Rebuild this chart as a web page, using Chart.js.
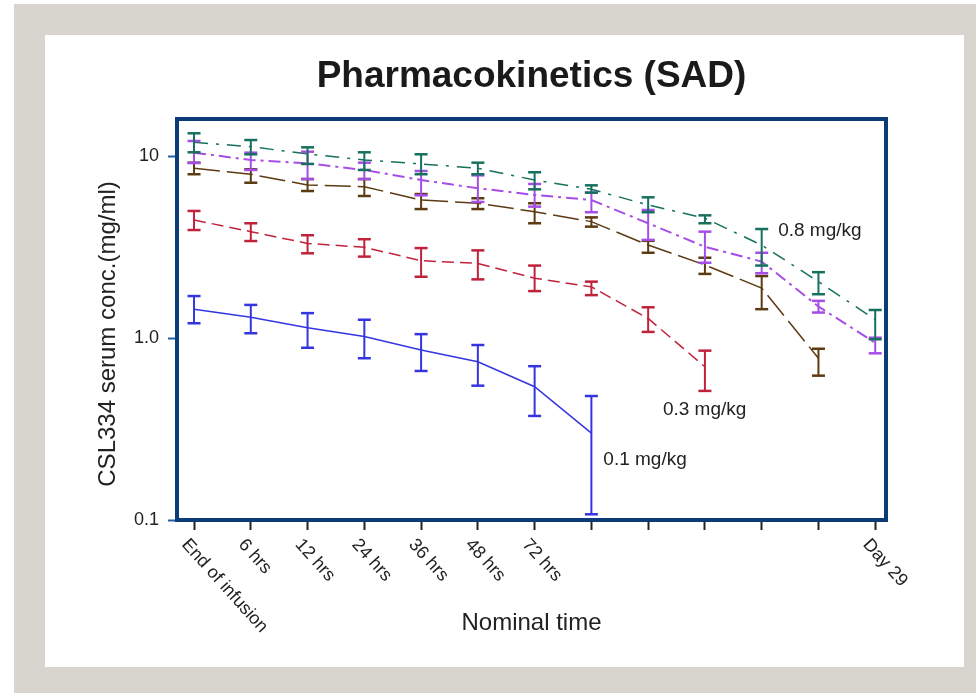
<!DOCTYPE html>
<html><head><meta charset="utf-8">
<script src="https://cdn.jsdelivr.net/npm/chart.js@4.4.1/dist/chart.umd.min.js"></script>
<style>html,body{margin:0;padding:0;background:#fff;}canvas{display:block;}</style>
</head><body>
<canvas id="c" width="976" height="693"></canvas>
<script>
// ---- data ----
const timeLabels = ["End of infusion","6 hrs","12 hrs","24 hrs","36 hrs","48 hrs","72 hrs","","","","","","Day 29"];
const yTickValues = [0.1, 1, 10];
const yTickLabels = ["0.1", "1.0", "10"];
const seriesNames = ["0.1 mg/kg", "0.3 mg/kg", "Cohort 3", "Cohort 4", "0.8 mg/kg"];

const mean01 = [1.44, 1.30, 1.14, 1.02, 0.86, 0.74, 0.54, 0.30];
const low01  = [1.205, 1.062, 0.884, 0.774, 0.659, 0.547, 0.373, 0.1075];
const high01 = [1.70, 1.52, 1.37, 1.26, 1.05, 0.915, 0.70, 0.48];

const mean03 = [4.45, 3.84, 3.31, 3.15, 2.66, 2.57, 2.13, 1.91, 1.28, 0.695];
const low03  = [3.92, 3.41, 2.92, 2.80, 2.17, 2.10, 1.81, 1.72, 1.08, 0.512];
const high03 = [4.99, 4.27, 3.67, 3.49, 3.12, 3.03, 2.50, 2.04, 1.475, 0.852];

const meanC3 = [8.56, 7.94, 6.93, 6.78, 5.73, 5.50, 4.94, 4.36, 3.24, 2.52, 1.88, 0.774];
const lowC3  = [7.94, 7.13, 6.42, 6.03, 5.11, 5.11, 4.27, 4.09, 2.94, 2.25, 1.44, 0.621];
const highC3 = [9.19, 8.45, 7.47, 7.47, 6.18, 5.86, 5.50, 4.60, 3.42, 2.76, 2.19, 0.873];

const meanC4 = [10.43, 9.51, 9.12, 8.38, 7.38, 6.65, 6.11, 5.73, 4.27, 3.17, 2.63, 1.49, 0.94];
const lowC4  = [9.15, 8.38, 7.47, 7.47, 6.08, 5.59, 5.27, 4.91, 3.46, 2.59, 2.27, 1.38, 0.824];
const highC4 = [12.09, 10.43, 10.56, 9.19, 8.27, 7.83, 7.02, 6.29, 5.05, 3.84, 2.94, 1.60, 1.004];

const mean08 = [11.89, 11.25, 10.26, 9.51, 9.04, 8.56, 7.38, 6.56, 5.38, 4.55, 3.24, 2.04, 1.26];
const low08  = [10.48, 10.22, 9.04, 8.38, 7.94, 7.94, 6.56, 6.29, 4.91, 4.27, 2.50, 1.74, 0.984];
const high08 = [13.33, 12.24, 11.16, 10.48, 10.22, 9.19, 8.14, 6.90, 5.93, 4.72, 3.97, 2.30, 1.425];

// ---- styling ----
const means = [mean01, mean03, meanC3, meanC4, mean08];
const lows  = [low01, low03, lowC3, lowC4, low08];
const highs = [high01, high03, highC3, highC4, high08];
const colors = ['#3535e0', '#c0223a', '#5c3a12', '#a64de8', '#16705e'];
const dashes = [[], [12, 6], [26, 7], [12, 5, 3, 5], [14, 8, 3, 8]];
const widths = [1.5, 1.5, 1.5, 2, 1.5];
// annotation anchors (index on x, value on y) for the labelled series
const annot = [
  {s: 0, x: 7.21, y: 0.200},
  {s: 1, x: 8.26, y: 0.378},
  {s: 4, x: 10.29, y: 3.63}
];
const chartTitle = 'Pharmacokinetics (SAD)';
const xTitle = 'Nominal time';
const yTitle = 'CSL334 serum conc.(mg/ml)';
const FONT = "'Liberation Sans', Arial, sans-serif";
Chart.defaults.font.family = FONT;

const decor = {
  id: 'decor',
  beforeDraw(chart) {
    const c = chart.ctx; c.save();
    c.fillStyle = '#ffffff'; c.fillRect(0, 0, chart.width, chart.height);
    c.fillStyle = '#d8d5cf'; c.fillRect(14, 4, chart.width - 14, chart.height - 4);
    c.fillStyle = '#ffffff'; c.fillRect(45, 35, 919, 632);
    c.restore();
  },
  afterDatasetsDraw(chart) {
    const c = chart.ctx, a = chart.chartArea, xs = chart.scales.x, ys = chart.scales.y;
    const seg = (x1, y1, x2, y2) => { c.beginPath(); c.moveTo(x1, y1); c.lineTo(x2, y2); c.stroke(); };
    chart.data.datasets.forEach((ds, di) => {
      c.save(); c.strokeStyle = colors[di]; c.setLineDash([]);
      ds.data.forEach((p, i) => {
        const px = xs.getPixelForValue(p.x);
        const y1 = ys.getPixelForValue(lows[di][i]);
        const y2 = ys.getPixelForValue(highs[di][i]);
        c.lineWidth = 2; seg(px, y1, px, y2);
        c.lineWidth = 2.5; seg(px - 6.5, y1, px + 6.5, y1); seg(px - 6.5, y2, px + 6.5, y2);
      });
      c.restore();
    });
    c.save(); c.strokeStyle = '#0b3c78'; c.lineWidth = 4;
    c.strokeRect(a.left, a.top, a.right - a.left, a.bottom - a.top);
    c.restore();
  },
  afterDraw(chart) {
    const c = chart.ctx, xs = chart.scales.x, ys = chart.scales.y;
    c.save();
    c.fillStyle = '#222';
    // x tick labels, rotated
    c.font = '18px ' + FONT; c.textAlign = 'left'; c.textBaseline = 'alphabetic';
    timeLabels.forEach((t, i) => {
      if (!t) return;
      const px = xs.getPixelForValue(i);
      c.save(); c.translate(px - 13, 545); c.rotate(48 * Math.PI / 180); c.fillText(t, 0, 0); c.restore();
    });
    // y title
    c.save(); c.font = '24px ' + FONT; c.textAlign = 'center'; c.textBaseline = 'middle';
    c.translate(108, 334); c.rotate(-Math.PI / 2); c.fillText(yTitle, 0, 0); c.restore();
    // annotations
    c.font = '19px ' + FONT; c.textAlign = 'left'; c.textBaseline = 'alphabetic';
    annot.forEach(a => c.fillText(seriesNames[a.s], xs.getPixelForValue(a.x), ys.getPixelForValue(a.y)));
    c.restore();
  }
};

new Chart(document.getElementById('c'), {
  type: 'line',
  data: {
    datasets: means.map((m, di) => ({
      label: seriesNames[di],
      data: m.map((v, i) => ({x: i, y: v})),
      borderColor: colors[di],
      borderDash: dashes[di],
      borderWidth: widths[di],
      pointRadius: 0,
      fill: false,
      tension: 0
    }))
  },
  options: {
    responsive: false,
    animation: false,
    events: [],
    layout: {padding: {left: 0, right: 90, top: 0, bottom: 0}},
    plugins: {
      legend: {display: false},
      tooltip: {enabled: false},
      title: {
        display: true, text: chartTitle, fullSize: false, color: '#1a1a1a',
        font: {size: 37, weight: 'bold', family: FONT},
        padding: {top: 55, bottom: 19.6}
      }
    },
    scales: {
      x: {
        type: 'linear', min: -0.3, max: 12.19,
        afterBuildTicks: s => { s.ticks = timeLabels.map((t, i) => ({value: i})); },
        afterFit: s => { s.height = 173; },
        ticks: {display: false},
        grid: {drawOnChartArea: false, tickLength: 10, tickColor: '#222', tickWidth: 2},
        border: {display: false},
        title: {display: true, text: xTitle, color: '#222', font: {size: 24}, padding: {top: 0, bottom: 55}}
      },
      y: {
        type: 'logarithmic', min: 0.1, max: 15.97,
        afterBuildTicks: s => { s.ticks = yTickValues.map(v => ({value: v})); },
        afterFit: s => { s.width = 177; },
        ticks: {
          color: '#222', font: {size: 18}, padding: 9,
          callback: v => {
            let k = 0; yTickValues.forEach((t, i) => { if (Math.abs(t - v) < Math.abs(yTickValues[k] - v)) k = i; });
            return yTickLabels[k];
          }
        },
        grid: {drawOnChartArea: false, tickLength: 9, tickColor: '#1f5fae', tickWidth: 2},
        border: {display: false}
      }
    }
  },
  plugins: [decor]
});
</script>
</body></html>
